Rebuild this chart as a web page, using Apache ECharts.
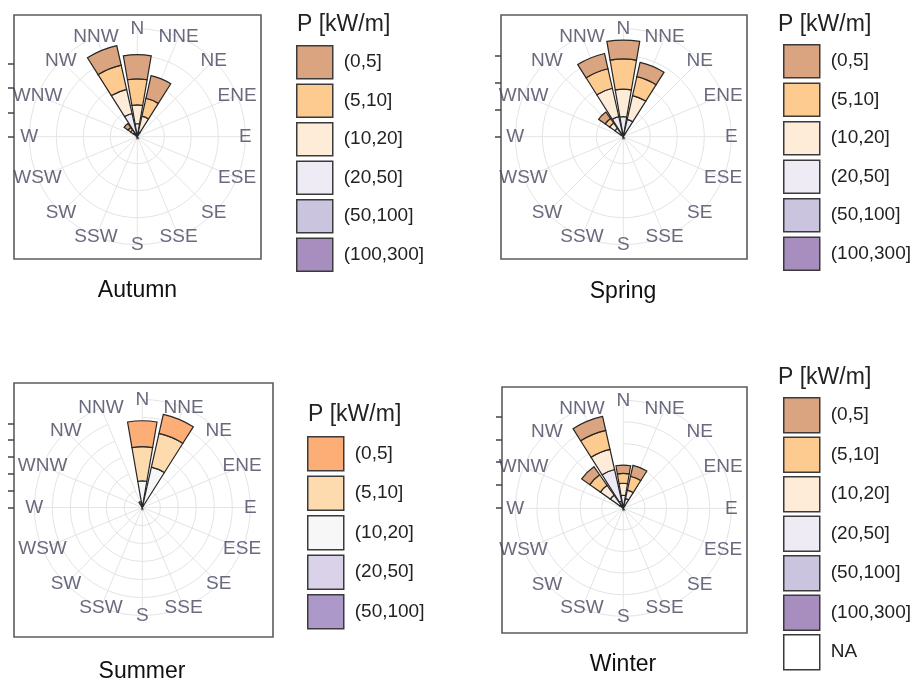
<!DOCTYPE html>
<html><head><meta charset="utf-8">
<script src="https://cdn.jsdelivr.net/npm/echarts@6/dist/echarts.min.js"></script>
<style>html,body{margin:0;padding:0;background:#fff}#c{width:919px;height:682px}</style>
</head><body><div id="c"></div><script>
// ---------------- DATA ----------------
const directions = ['N','NNE','NE','ENE','E','ESE','SE','SSE','S','SSW','SW','WSW','W','WNW','NW','NNW'];
const seasons = ['Autumn','Spring','Summer','Winter'];
const legendTitle = 'P [kW/m]';

const classesFull   = ['(0,5]','(5,10]','(10,20]','(20,50]','(50,100]','(100,300]'];
const classesSummer = ['(0,5]','(5,10]','(10,20]','(20,50]','(50,100]'];
const classesWinter = ['(0,5]','(5,10]','(10,20]','(20,50]','(50,100]','(100,300]','NA'];

const colorsFull   = ['#D9A47F','#FDCB8F','#FEEBD8','#EEEBF5','#CBC4DE','#A78EBF'];
const colorsSummer = ['#FDAE76','#FDDBAE','#F7F7F7','#D9D2E8','#AC98C9'];
const colorsWinter = ['#D9A47F','#FDCB8F','#FEEBD8','#EEEBF5','#CBC4DE','#A78EBF','#FFFFFF'];

// frequency (%) per class (rows, legend order) and direction (columns, N..NNW)
const autumnValues = [
  [4.5,4.3,0,0,0,0,0,0,0,0,0,0,0,0,0.9,3.7],
  [4.8,3.4,0,0,0,0,0,0,0,0,0,0,0,0,0.6,4.6],
  [3.5,3.0,0,0,0,0,0,0,0,0,0,0,0,0,0.6,4.6],
  [2.4,0.9,0,0,0,0,0,0,0,0,0,0,0,0,0.6,3.8],
  [0,0,0,0,0,0,0,0,0,0,0,0,0,0,0.3,0.6],
  [0,0,0,0,0,0,0,0,0,0,0,0,0,0,0,0]
];
const springValues = [
  [3.5,2.7,0,0,0,0,0,0,0,0,0,0,0,0,1.5,2.9],
  [5.6,3.6,0,0,0,0,0,0,0,0,0,0,0,0,1.0,3.7],
  [5.1,4.5,0,0,0,0,0,0,0,0,0,0,0,0,1.2,5.4],
  [3.2,2.8,0,0,0,0,0,0,0,0,0,0,0,0,1.4,3.3],
  [0.5,0.5,0,0,0,0,0,0,0,0,0,0,0,0,0.5,0.5],
  [0,0,0,0,0,0,0,0,0,0,0,0,0,0,0,0]
];
const summerValues = [
  [7.2,5.4,0,0,0,0,0,0,0,0,0,0,0,0,0,0.7],
  [9.5,9.6,0,0,0,0,0,0,0,0,0,0,0,0,0,0.5],
  [6.9,11.0,0,0,0,0,0,0,0,0,0,0,0,0,0,0.5],
  [0.5,0.5,0,0,0,0,0,0,0,0,0,0,0,0,0,0],
  [0,0,0,0,0,0,0,0,0,0,0,0,0,0,0,0]
];
const winterValues = [
  [1.9,2.6,0,0,0,0,0,0,0,0,0,0,0,0,2.3,3.3],
  [2.3,3.3,0,0,0,0,0,0,0,0,0,0,0,0,3.0,4.5],
  [2.8,2.0,0,0,0,0,0,0,0,0,0,0,0,0,2.8,4.8],
  [2.2,1.6,0,0,0,0,0,0,0,0,0,0,0,0,2.7,7.5],
  [0.8,0.7,0,0,0,0,0,0,0,0,0,0,0,0,1.0,1.2],
  [0,0,0,0,0,0,0,0,0,0,0,0,0,0,0,0.5],
  [0,0,0,0,0,0,0,0,0,0,0,0,0,0,0,0]
];

const radiusMax  = [20, 20, 30, 25];   // outer grid ring (%)
const ringStep   = [5, 5, 5, 5];
const yTickAutumn = [0,1,2,3];
const yTickSpring = [0,1,2,3];
const yTickSummer = [0,1,2,3,4,5];
const yTickWinter = [0,1,2,3,4];

// ---------------- LAYOUT ----------------
const FONT = "'Liberation Sans', Arial, sans-serif";
const panels = [
  {values:autumnValues, classes:classesFull,   colors:colorsFull,   yTicks:yTickAutumn,
   box:[14,15,247,244],  yRange:[-5,5],     center:[137.3,136.7], R:108,
   legend:[296,45,33,4],  lt:[297,25],  cap:[137.5,291]},
  {values:springValues, classes:classesFull,   colors:colorsFull,   yTicks:yTickSpring,
   box:[501,15,246,244], yRange:[-4.5,4.5], center:[623.3,136.7], R:108,
   legend:[783,44,33,4],  lt:[778,25],  cap:[623,292]},
  {values:summerValues, classes:classesSummer, colors:colorsSummer, yTicks:yTickSummer,
   box:[14,383,259,254], yRange:[-7.7,7.4], center:[142.3,507.5], R:108,
   legend:[307,436,34,4], lt:[308,415], cap:[142,672]},
  {values:winterValues, classes:classesWinter, colors:colorsWinter, yTicks:yTickWinter,
   box:[502,387,245,246],yRange:[-5.5,5.3], center:[623.3,508.3], R:108,
   legend:[783,397,35,3], lt:[778,378], cap:[623,665]}
];

const option = {
  animation:false,
  backgroundColor:'#fff',
  grid:[], xAxis:[], yAxis:[], polar:[], angleAxis:[], radiusAxis:[], legend:[], series:[], graphic:[]
};

panels.forEach((p,i)=>{
  const season = seasons[i];
  option.grid.push({left:p.box[0], top:p.box[1], width:p.box[2], height:p.box[3], show:true,
    borderColor:'#5c5c5c', borderWidth:1.6, backgroundColor:'transparent'});
  option.xAxis.push({gridIndex:i, type:'value', show:false, min:-1, max:1});
  option.yAxis.push({gridIndex:i, type:'value', position:'left', min:p.yRange[0], max:p.yRange[1],
    axisLine:{show:false, onZero:false}, splitLine:{show:false}, axisLabel:{show:false},
    axisTick:{show:true, inside:false, length:6, customValues:p.yTicks, lineStyle:{color:'#444', width:1.5}}});
  option.polar.push({center:p.center, radius:p.R});
  option.angleAxis.push({polarIndex:i, type:'category', data:directions, boundaryGap:false,
    startAngle:90, clockwise:true, axisLine:{show:false}, axisTick:{show:false}, axisLabel:{show:false},
    splitLine:{show:true, lineStyle:{color:'#e4e4e4', width:1}}});
  option.radiusAxis.push({polarIndex:i, type:'value', min:0, max:radiusMax[i], interval:ringStep[i],
    axisLine:{show:false}, axisTick:{show:false}, axisLabel:{show:false},
    splitLine:{show:true, lineStyle:{color:'#e4e4e4', width:1}}});
  // bars: innermost = highest class
  for (let k = p.classes.length-1; k >= 0; k--) {
    const cls = p.classes[k];
    option.series.push({
      type:'bar', coordinateSystem:'polar', polarIndex:i,
      name: season+'|'+cls, stack:'st'+i,
      data: p.values[k].map(v => v === 0 ? '-' : v),
      barCategoryGap:'13%', z:3,
      itemStyle:{color:p.colors[k], borderColor:'#262626', borderWidth:1.2}
    });
  }
  // direction labels on the outer ring
  option.series.push({
    type:'scatter', coordinateSystem:'polar', polarIndex:i, silent:true, symbolSize:1, z:5,
    itemStyle:{color:'transparent'},
    data: directions.map(d=>({name:d, value:[radiusMax[i], d]})),
    label:{show:true, position:'inside', formatter:'{b}', color:'#45455e', fontSize:19, fontFamily:FONT}
  });
  option.legend.push({
    data: p.classes.map(c=>season+'|'+c), orient:'vertical', left:p.legend[0], top:p.legend[1],
    itemWidth:36, itemHeight:p.legend[2], itemGap:p.legend[3], padding:0, selectedMode:false, icon:'rect',
    formatter: n => n.split('|')[1],
    itemStyle:{borderColor:'#3a3a3a', borderWidth:1.5},
    textStyle:{fontSize:19, color:'#222', fontFamily:FONT, padding:[0,0,0,6]}
  });
  option.graphic.push({type:'text', x:p.lt[0], y:p.lt[1], style:{text:legendTitle, font:'23px '+FONT, fill:'#222', align:'left', verticalAlign:'middle'}});
  option.graphic.push({type:'text', x:p.cap[0], y:p.cap[1], style:{text:season, font:'23px '+FONT, fill:'#111', align:'center', verticalAlign:'middle'}});
});

const chart = echarts.init(document.getElementById('c'), null, {renderer:'canvas'});
chart.setOption(option);
</script></body></html>
